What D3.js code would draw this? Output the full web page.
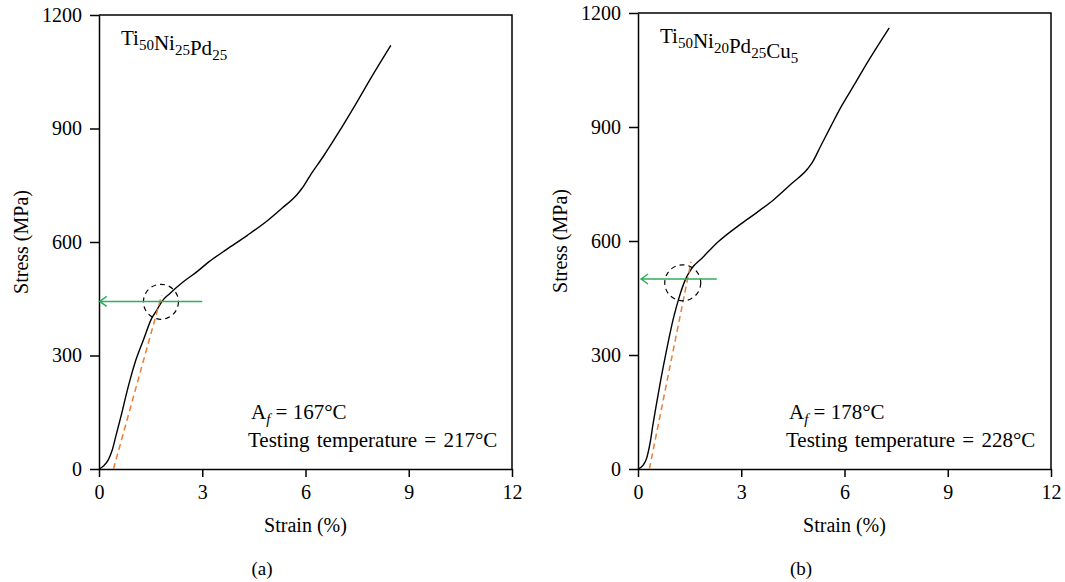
<!DOCTYPE html>
<html>
<head>
<meta charset="utf-8">
<script src="https://cdn.jsdelivr.net/npm/d3@7"></script>
<style>
  body { margin: 0; background: #fff; }
  svg, svg text { font-family: "Liberation Serif", "Times New Roman", serif; }
</style>
</head>
<body>
<svg id="chart" width="1065" height="582" font-family="Liberation Serif, serif"></svg>
<script>
// tick values shared by both panels
const xTicks = [0, 3, 6, 9, 12];
const yTicks = [0, 300, 600, 900, 1200];

// (a) Ti50Ni25Pd25
const strainA = [0, 0.13, 0.27, 0.37, 0.51, 0.66, 0.80, 0.90, 1.05, 1.29, 1.53, 1.68, 1.82, 2.06, 2.45, 2.84, 3.2, 3.7, 4.3, 4.9, 5.3, 5.75, 5.9, 6.13, 6.53, 6.93, 7.43, 7.93, 8.48];
const stressA = [0, 8, 24, 46, 94, 147, 200, 235, 282, 341, 398, 420, 442, 464, 495, 521, 548, 580, 617, 657, 688, 725, 742, 775, 828, 885, 960, 1038, 1120];
const fitStrainA = [0.42, 1.82];
const fitStressA = [0, 460];
const arrowStrainA = [3.0, 0.02];
const arrowStressA = 443;
const circleA = [1.8, 442];

// (b) Ti50Ni20Pd25Cu5
const strainB = [0, 0.15, 0.25, 0.35, 0.44, 0.54, 0.66, 0.83, 1.03, 1.20, 1.37, 1.56, 1.85, 2.33, 2.99, 3.47, 3.96, 4.45, 4.93, 5.06, 5.32, 5.61, 5.90, 6.29, 6.68, 7.30];
const stressB = [0, 10, 28, 68, 120, 173, 234, 313, 397, 453, 497, 528, 554, 598, 645, 676, 710, 750, 790, 806, 852, 903, 953, 1012, 1072, 1161];
const fitStrainB = [0.33, 1.54];
const fitStressB = [0, 545];
const arrowStrainB = [2.29, 0.09];
const arrowStressB = 500;
const circleB = [1.30, 490];

const panels = [
    {
        left: 99, right: 512, top: 15, bottom: 469, label: "(a)", labelX: 262,
        alloy: [["Ti", "50"], ["Ni", "25"], ["Pd", "25"]],
        af: "167", test: "217",
        strain: strainA, stress: stressA,
        fitStrain: fitStrainA, fitStress: fitStressA,
        arrowStrain: arrowStrainA, arrowStress: arrowStressA, circle: circleA,
        r: 17.5, afX: 251, testX: 248
    },
    {
        left: 638, right: 1051, top: 13, bottom: 469, label: "(b)", labelX: 801,
        alloy: [["Ti", "50"], ["Ni", "20"], ["Pd", "25"], ["Cu", "5"]],
        af: "178", test: "228",
        strain: strainB, stress: stressB,
        fitStrain: fitStrainB, fitStress: fitStressB,
        arrowStrain: arrowStrainB, arrowStress: arrowStressB, circle: circleB,
        r: 18, afX: 789, testX: 786
    }
];

const serif = "Liberation Serif, Times New Roman, serif";
const svg = d3.select("#chart");
svg.append("rect").attr("width", 1065).attr("height", 582).attr("fill", "#fff");

panels.forEach(p => {
    const x = d3.scaleLinear().domain([0, 12]).range([p.left, p.right]);
    const y = d3.scaleLinear().domain([0, 1200]).range([p.bottom, p.top]);
    const g = svg.append("g").attr("font-family", serif);

    // frame (top + right)
    g.append("path")
        .attr("d", `M${x(0)},${y(1200)}H${x(12)}V${y(0)}`)
        .attr("fill", "none")
        .attr("stroke", "#000")
        .attr("stroke-width", 1.5);

    const xAxis = g.append("g")
        .attr("transform", `translate(0,${y(0)})`)
        .call(d3.axisBottom(x).tickValues(xTicks).tickFormat(d3.format("d"))
            .tickSize(8).tickSizeOuter(0).tickPadding(8));
    const yAxis = g.append("g")
        .attr("transform", `translate(${x(0)},0)`)
        .call(d3.axisLeft(y).tickValues(yTicks).tickFormat(d3.format("d"))
            .tickSize(9).tickSizeOuter(0).tickPadding(8));

    [xAxis, yAxis].forEach(ax => {
        ax.attr("font-family", serif).attr("font-size", 20);
        ax.selectAll("path, line").attr("stroke", "#000").attr("stroke-width", 1.5);
        ax.selectAll("text").attr("fill", "#000").style("font-family", serif);
    });

    // axis titles
    g.append("text")
        .attr("x", (p.left + p.right) / 2)
        .attr("y", 532)
        .attr("text-anchor", "middle")
        .attr("font-size", 20)
        .text("Strain (%)");
    g.append("text")
        .attr("transform", `translate(${p.left - 78},${(p.top + p.bottom) / 2}) rotate(-90)`)
        .attr("text-anchor", "middle")
        .attr("dy", "0.35em")
        .attr("font-size", 20)
        .text("Stress (MPa)");
    g.append("text")
        .attr("x", p.labelX)
        .attr("y", 575)
        .attr("text-anchor", "middle")
        .attr("font-size", 19)
        .text(p.label);

    // alloy name with subscripts
    const t = g.append("text")
        .attr("x", p.left + 22)
        .attr("y", p.top + 30)
        .attr("font-size", 21);
    p.alloy.forEach(([el, n]) => {
        t.append("tspan").text(el);
        t.append("tspan").attr("dy", 5).attr("font-size", 15).text(n);
        t.append("tspan").attr("dy", -5).text("");
    });

    // Af and testing temperature
    const af = g.append("text").attr("x", p.afX).attr("y", 419).attr("font-size", 21);
    af.append("tspan").text("A");
    af.append("tspan").attr("dy", 5).attr("font-size", 15).attr("font-style", "italic").text("f");
    af.append("tspan").attr("dy", -5).text(` = ${p.af}°C`);
    g.append("text")
        .attr("x", p.testX).attr("y", 447).attr("font-size", 21)
        .attr("word-spacing", 2)
        .text(`Testing temperature = ${p.test}°C`);

    // stress-strain curve
    const pts = p.strain.map((s, i) => [s, p.stress[i]]);
    g.append("path")
        .datum(pts)
        .attr("fill", "none")
        .attr("stroke", "#000")
        .attr("stroke-width", 1.4)
        .attr("d", d3.line().x(d => x(d[0])).y(d => y(d[1])).curve(d3.curveMonotoneX));

    // elastic fit line
    g.append("line")
        .attr("x1", x(p.fitStrain[0])).attr("y1", y(p.fitStress[0]))
        .attr("x2", x(p.fitStrain[1])).attr("y2", y(p.fitStress[1]))
        .attr("stroke", "#ee7d31")
        .attr("stroke-width", 1.5)
        .attr("stroke-dasharray", "6,4");

    // dashed circle
    g.append("circle")
        .attr("cx", x(p.circle[0])).attr("cy", y(p.circle[1]))
        .attr("r", p.r)
        .attr("fill", "none")
        .attr("stroke", "#000")
        .attr("stroke-width", 1.2)
        .attr("stroke-dasharray", "5,4");

    // green arrow
    const ay = y(p.arrowStress);
    const tip = x(p.arrowStrain[1]);
    g.append("path")
        .attr("d", `M${x(p.arrowStrain[0])},${ay}H${tip}M${tip + 7},${ay - 5}L${tip},${ay}L${tip + 7},${ay + 5}`)
        .attr("fill", "none")
        .attr("stroke", "#2fae5b")
        .attr("stroke-width", 1.5);
});
</script>
</body>
</html>
